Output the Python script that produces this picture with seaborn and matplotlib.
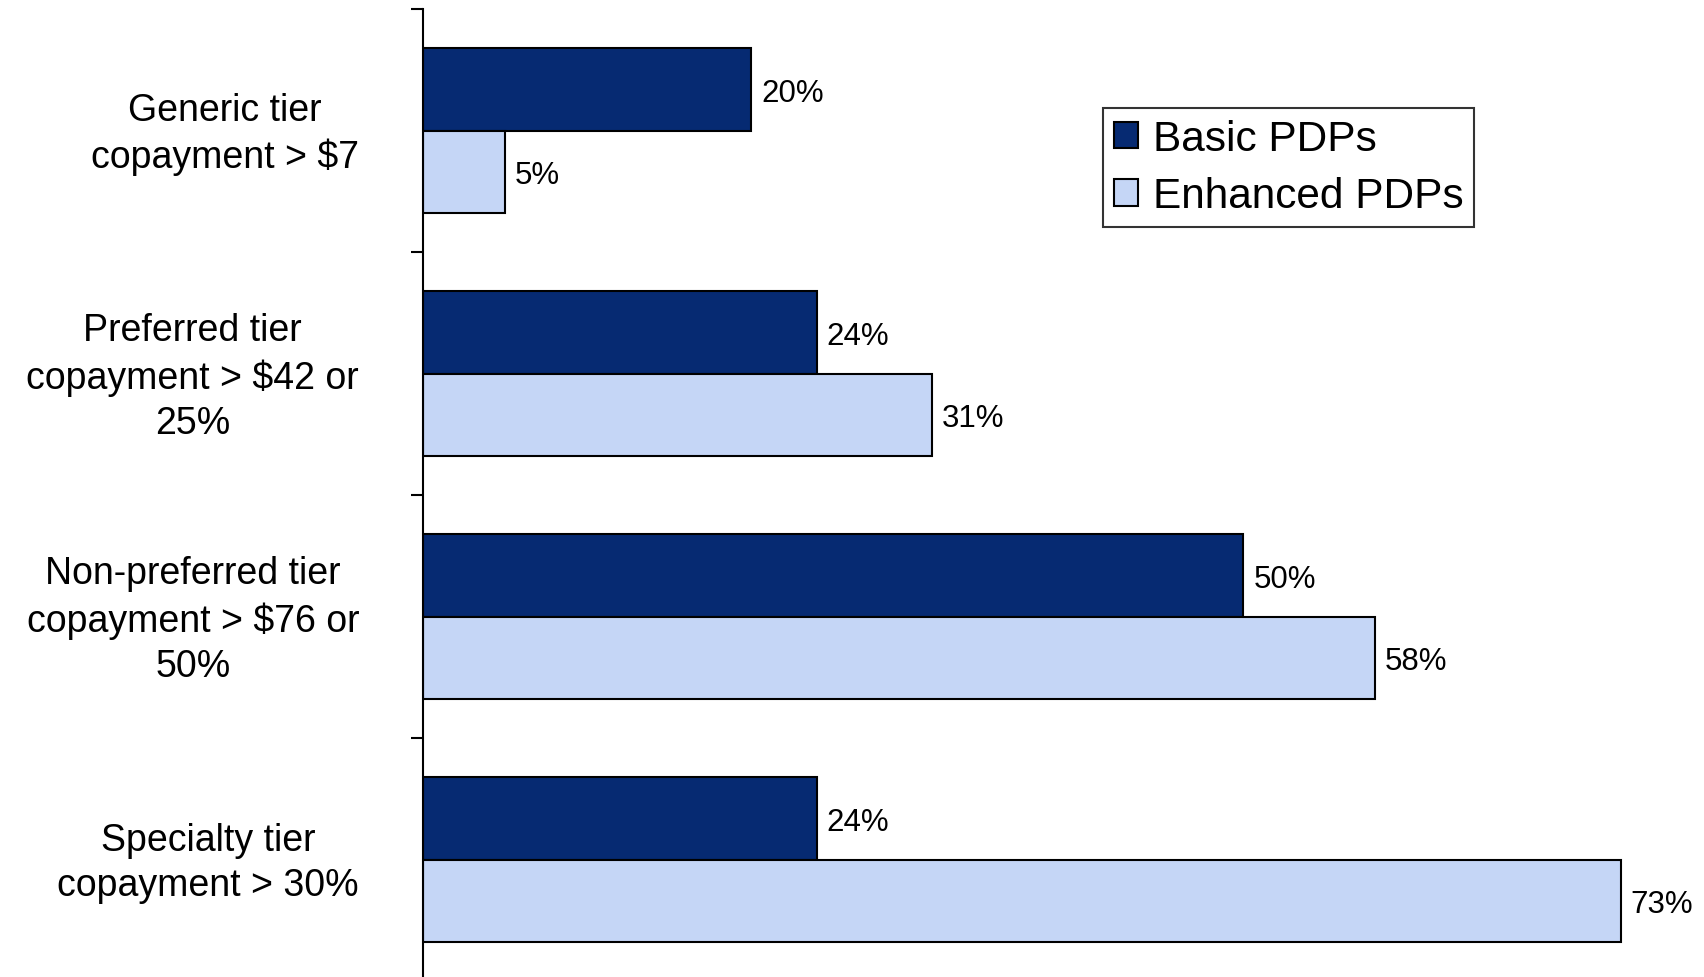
import matplotlib
matplotlib.use("Agg")
import matplotlib.pyplot as plt
import matplotlib.transforms as mtransforms
import seaborn as sns
import pandas as pd

# Share of plans exceeding each cost-sharing threshold
categories = [
    "Generic tier\ncopayment > $7",
    "Preferred tier\ncopayment > $42 or\n25%",
    "Non-preferred tier\ncopayment > $76 or\n50%",
    "Specialty tier\ncopayment > 30%",
]
plan_types = ["Basic PDPs", "Enhanced PDPs"]
basic_pct = [20, 24, 50, 24]
enhanced_pct = [5, 31, 58, 73]

df = pd.DataFrame({
    "category": categories * 2,
    "plan": [plan_types[0]] * 4 + [plan_types[1]] * 4,
    "pct": basic_pct + enhanced_pct,
})

sns.set_theme(style="white")
plt.rcParams["font.family"] = ["Liberation Sans", "DejaVu Sans"]
plt.rcParams["text.color"] = "black"
plt.rcParams["ytick.color"] = "black"
plt.rcParams["ytick.labelcolor"] = "black"

fig = plt.figure(figsize=(17.04, 9.78), dpi=100)
ax = fig.add_axes([0.2482, -0.0041, 0.7518, 0.99387])

palette = {"Basic PDPs": "#062A72", "Enhanced PDPs": "#C5D6F6"}
sns.barplot(
    data=df, y="category", x="pct", hue="plan", order=categories,
    hue_order=plan_types, palette=palette, orient="h", width=0.675,
    gap=0, edgecolor="black", linewidth=1.5, saturation=1, ax=ax,
)

for cont in ax.containers:
    texts = ax.bar_label(cont, labels=[f"{v:.0f}%" for v in cont.datavalues],
                         padding=7, fontsize=22.5, color="black")
    for t in texts:
        t.set_verticalalignment("center_baseline")

ax.set_xlim(0, 78.06)
ax.set_ylim(3.5, -0.5)
ax.set_xlabel("")
ax.set_ylabel("")
ax.set_xticks([])

# category boundaries carry the ticks, labels sit at the centres
ax.set_yticks([-0.5, 0.5, 1.5, 2.5, 3.5])
ax.set_yticklabels([])
ax.set_yticks(range(len(categories)), minor=True)
ax.set_yticklabels(categories, minor=True, fontsize=27, color="black",
                   multialignment="center", linespacing=1.33)
ax.tick_params(axis="y", which="major", left=True, length=9, width=1.5,
               color="black", direction="out")
ax.tick_params(axis="y", which="minor", left=False, length=0, pad=46)

lift = mtransforms.ScaledTranslation(0, 4 / 72, fig.dpi_scale_trans)
for lbl in ax.get_yticklabels(minor=True):
    lbl.set_transform(lbl.get_transform() + lift)

for side in ["top", "right", "bottom"]:
    ax.spines[side].set_visible(False)
ax.spines["left"].set_color("black")
ax.spines["left"].set_linewidth(1.5)

handles, labels = ax.get_legend_handles_labels()
leg = ax.legend(
    handles, labels, loc="upper left",
    bbox_to_anchor=(0.6473, 0.8885), bbox_transform=fig.transFigure,
    fontsize=30.5, frameon=True, fancybox=False, edgecolor="black",
    handlelength=0.58, handleheight=0.58, handletextpad=0.35,
    borderpad=0.25, labelspacing=0.42, borderaxespad=0,
)
leg.get_frame().set_linewidth(1.5)
for t in leg.get_texts():
    t.set_color("black")

fig.savefig("out.png", dpi=100, facecolor="white")
